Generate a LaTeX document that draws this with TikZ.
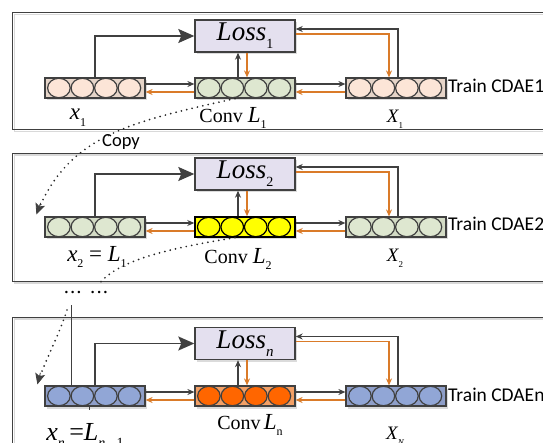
\documentclass[tikz,border=0pt]{standalone}
\usepackage{fontspec}
\setmainfont{Liberation Serif}
\newfontfamily\carl{Carlito}
\usetikzlibrary{arrows.meta,calc,shadows}
\definecolor{dk}{HTML}{404040}
\definecolor{orng}{HTML}{DA7B29}
\definecolor{lossfill}{HTML}{E4E0EF}
\definecolor{peachR}{HTML}{E6D5C9}
\definecolor{peachC}{HTML}{FCE5D7}
\definecolor{greenR}{HTML}{D3DBC5}
\definecolor{greenC}{HTML}{DEE7D0}
\definecolor{yelR}{HTML}{FFFF00}
\definecolor{yelC}{HTML}{FFFF00}
\definecolor{orR}{HTML}{F3A066}
\definecolor{orC}{HTML}{FF6600}
\definecolor{blR}{HTML}{8E9EC8}
\definecolor{blC}{HTML}{91A6D6}
\newcommand\sbx[2]{\raisebox{-0.3em}{\fontsize{#1}{#1}\selectfont #2}}
\tikzset{
  layerbox/.style={rectangle,draw=dk,line width=1.2pt,minimum width=100pt,minimum height=20pt,inner sep=0pt,
    drop shadow={shadow xshift=2pt,shadow yshift=-2.5pt,fill=black!14,opacity=1}},
  lossbox/.style={rectangle,draw=dk,line width=1.4pt,fill=lossfill,minimum width=100pt,minimum height=32pt,inner sep=0pt,
    drop shadow={shadow xshift=2pt,shadow yshift=-2.5pt,fill=black!14,opacity=1}},
  darr/.style={draw=dk,line width=1.1pt,-{Stealth[length=7pt,width=6pt]}},
  oarr/.style={draw=orng,line width=1.1pt,-{Stealth[length=7pt,width=6pt]}},
  bigarr/.style={draw=dk,line width=1.8pt,-{Stealth[length=16pt,width=14pt,inset=3pt]}},
  dots/.style={draw=black!85,line width=1.9pt,line cap=round,dash pattern=on 0pt off 5.5pt},
  dottip/.style={draw=dk,line width=0.8pt,-{Stealth[length=11pt,width=10pt,inset=2.5pt]}},
  frameline/.style={draw=dk,line width=0.9pt},
  frameshade/.style={draw=black!15,line width=1.4pt},
  lbl/.style={inner sep=0pt,anchor=center},
  train/.style={inner sep=0pt,anchor=west,font=\carl\fontsize{19.5}{19.5}\selectfont},
}
\newcommand\circs[3]{% node, circle fill, border
  \foreach \k in {0,1,2,3}
    \draw[draw=#3,line width=1.2pt,fill=#2] ($(#1.west)+({14.5+23.5*\k},0)$) ellipse[x radius=11.3pt,y radius=9.7pt];
}
\newcommand\wires[1]{%
  \draw[bigarr] (l#1.north) |- (loss#1.west);
  \draw[darr] ($(r#1.north)+(2,0)$) |- ($(loss#1.east)+(0,-7)$);
  \draw[oarr] ($(loss#1.east)+(0,-2)$) -| ($(r#1.north)+(-7,0)$);
  \draw[darr] ($(m#1.north)+(-7,0)$) -- ($(loss#1.south)+(-7,0)$);
  \draw[oarr] ($(loss#1.south)+(2,0)$) -- ($(m#1.north)+(2,0)$);
  \draw[darr] ($(l#1.east)+(0,-4)$) -- ($(m#1.west)+(0,-4)$);
  \draw[oarr] ($(m#1.west)+(0,4)$) -- ($(l#1.east)+(0,4)$);
  \draw[darr] ($(m#1.east)+(0,-4)$) -- ($(r#1.west)+(0,-4)$);
  \draw[oarr] ($(r#1.west)+(0,4)$) -- ($(m#1.east)+(0,4)$);
}
\newcommand\threedots{.\kern2.6pt.\kern2.6pt.}
\begin{document}
\begin{tikzpicture}[x=1pt,y=-1pt]
\useasboundingbox (0,0) rectangle (543,443);
\clip (0,0) rectangle (543,443);
\fill[white] (0,0) rectangle (543,443);
% frames
\draw[frameshade] (14.5,14.5) rectangle (600,131.5);
\draw[frameline] (12.5,12.5) rectangle (600,129.5);
\draw[frameshade] (14.5,155) rectangle (600,283);
\draw[frameline] (12.5,153) rectangle (600,281);
\draw[frameshade] (14.5,319) rectangle (600,470);
\draw[frameline] (12.5,317) rectangle (600,470);

% ---------- panel 1
\node[lossbox] (loss1) at (245,36) {\fontsize{27}{28}\selectfont\itshape Loss\sbx{14}{\upshape 1}};
\node[layerbox,fill=peachR] (l1) at (95,88) {};
\node[layerbox,fill=greenR] (m1) at (245,88) {};
\node[layerbox,fill=peachR] (r1) at (396,88) {};
\circs{l1}{peachC}{dk}\circs{m1}{greenC}{dk}\circs{r1}{peachC}{dk}
\wires{1}
\node[train] (t1) at (448,86) {Train CDAE1};
\node[lbl] (a1) at (78,118) {\fontsize{23}{23}\selectfont\itshape x\sbx{12}{\upshape 1}};
\node[lbl] (b1) at (233,118) {\fontsize{20}{20}\selectfont Conv {\fontsize{23}{23}\selectfont\itshape L}\sbx{12}{1}};
\node[lbl] (c1) at (395,119) {\fontsize{19}{19}\selectfont\itshape X\sbx{9}{\upshape 1}};
\node[inner sep=0pt,font=\carl\fontsize{18.5}{18.5}\selectfont] (copy) at (121,142) {Copy};

% ---------- panel 2
\node[lossbox] (loss2) at (245,174) {\fontsize{27}{28}\selectfont\itshape Loss\sbx{14}{\upshape 2}};
\node[layerbox,fill=greenR] (l2) at (95,227) {};
\node[layerbox,fill=yelR,draw=black,line width=1.5pt] (m2) at (245,227) {};
\node[layerbox,fill=greenR] (r2) at (396,227) {};
\circs{l2}{greenC}{dk}\circs{m2}{yelC}{black}\circs{r2}{greenC}{dk}
\wires{2}
\node[train] (t2) at (448,224) {Train CDAE2};
\node[lbl] (a2) at (97,257) {\fontsize{23}{23}\selectfont\itshape x\sbx{12}{\upshape 2}\upshape\ =\ \itshape L\sbx{12}{\upshape 1}};
\node[lbl] (b2) at (238,259) {\fontsize{20}{20}\selectfont Conv {\fontsize{23}{23}\selectfont\itshape L}\sbx{12}{2}};
\node[lbl] (c2) at (395,258) {\fontsize{19}{19}\selectfont\itshape X\sbx{9}{\upshape 2}};
\node[inner sep=0pt,font=\bfseries\fontsize{15}{15}\selectfont] (ell) at (86,292) {\threedots\kern10pt\threedots};

% ---------- panel 3
\node[lossbox] (loss3) at (245,343.5) {\fontsize{27}{28}\selectfont\itshape Loss\sbx{15}{n}};
\node[layerbox,fill=blR] (l3) at (95,396) {};
\node[layerbox,fill=orR] (m3) at (245,396) {};
\node[layerbox,fill=blR] (r3) at (396,396) {};
\circs{l3}{blC}{dk}\circs{m3}{orC}{dk}\circs{r3}{blC}{dk}
\wires{3}
\node[train] (t3) at (448,395) {Train CDAEn};
\node[lbl] (a3) at (85,436) {\fontsize{26}{26}\selectfont\itshape x\sbx{14}{n}\upshape\,=\itshape L\sbx{14}{n\upshape $-$1}};
\node[lbl] (b3) at (250,425) {\fontsize{20}{20}\selectfont Conv\,{\fontsize{23}{23}\selectfont\itshape L}\sbx{12}{n}};
\node[lbl] (c3) at (395,436) {\fontsize{19}{19}\selectfont\itshape X\sbx{9}{N}};

% ---------- copy paths
\coordinate (c1s) at ($(m1.south)+(-10,0)$);
\coordinate (c1e) at ($(l2.north west)+(-8,-2)$);
\draw[dots] (c1s) .. controls (130,122) and (68,135) .. (c1e);
\draw[dottip] ($(c1e)+(4.3,-11.5)$) -- (c1e);
\coordinate (c2s) at ($(m2.south)+(-10,0)$);
\coordinate (c2e) at (99,284);
\draw[dots] (c2s) .. controls (170,248) and (118,260) .. (c2e);
\coordinate (c3s) at (67,310);
\coordinate (c3e) at ($(l3.north west)+(-7,-1)$);
\draw[dots] (c3s) .. controls (58,338) and (45,360) .. (c3e);
\draw[dottip] ($(c3e)+(3,-11.6)$) -- (c3e);
\draw[dk,line width=0.8pt] ($(l3.north)+(-24,0)$) -- ++(0,-80);
\draw[dk,line width=0.8pt] ($(l3.south)+(-6,0)$) -- ++(0,3);
\end{tikzpicture}
\end{document}
